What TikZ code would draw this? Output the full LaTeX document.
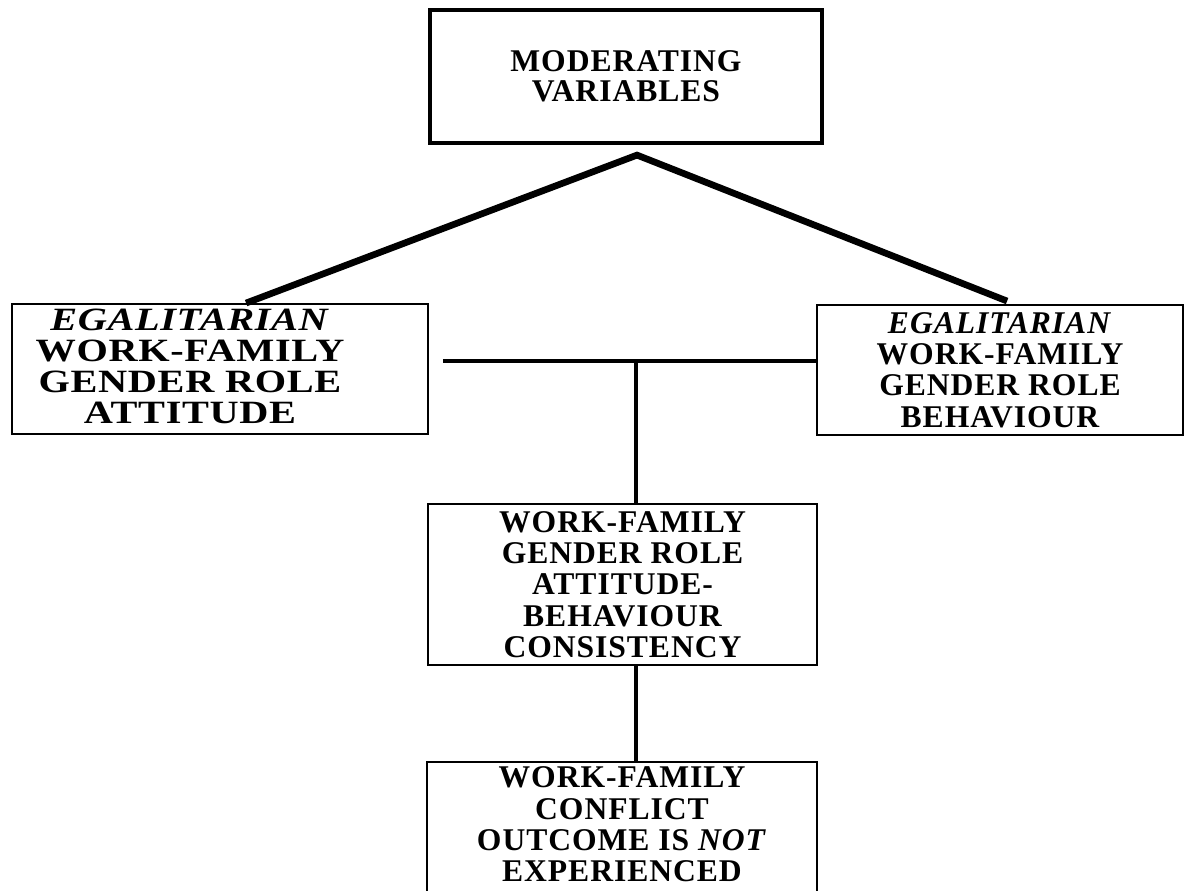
\documentclass[tikz,border=0pt]{standalone}
\usepackage{fontspec}
\setmainfont{Liberation Serif}[LetterSpace=3]
\newfontfamily\widefont[FakeStretch=1.24,LetterSpace=2]{Liberation Serif}
\usetikzlibrary{calc}
\tikzset{
  box/.style={draw, line width=1.1pt, rectangle, inner sep=0pt, align=center,
    font=\fontsize{18}{17.8}\selectfont\bfseries},
  topbox/.style={box, line width=2.4pt, font=\fontsize{18}{17}\selectfont\bfseries},
  widetext/.style={align=center, inner sep=0pt, font=\widefont\fontsize{18.5}{17.6}\selectfont\bfseries},
  link/.style={line width=2.4pt},
  heavy/.style={line width=3.8pt, line join=miter},
}
\begin{document}
\begin{tikzpicture}[x=0.02cm, y=-0.02cm]
\useasboundingbox (0,0) rectangle (1186,890);
\clip (0,0) rectangle (1186,890);
\fill[white] (0,0) rectangle (1186,890);

\node[topbox, minimum width=7.84cm, minimum height=2.66cm] (mod) at (626,76.5) {MODERATING\\VARIABLES};

\node[box, minimum width=8.32cm, minimum height=2.6cm] (att) at (220,369) {};
\node[widetext] (atttext) at (190,366) {\textit{EGALITARIAN}\\WORK-FAMILY\\GENDER ROLE\\ATTITUDE};

\node[box, minimum width=7.32cm, minimum height=2.6cm] (beh) at (1000,370) {\textit{EGALITARIAN}\\WORK-FAMILY\\GENDER ROLE\\BEHAVIOUR};

\node[box, minimum width=7.78cm, minimum height=3.22cm] (con) at (622.5,584.5) {WORK-FAMILY\\GENDER ROLE\\ATTITUDE-\\BEHAVIOUR\\CONSISTENCY};

\node[box, draw=none, minimum width=7.76cm, minimum height=2.46cm] (out) at (622,824.5) {WORK-FAMILY\\CONFLICT\\OUTCOME IS \textit{NOT}\\EXPERIENCED};
\draw[line width=1.1pt] ($(out.south west)+(0,20)$) -- (out.north west) -- (out.north east) -- ($(out.south east)+(0,20)$);

% connectors
\coordinate (apex) at ($(mod.south)+(11,10)$);
\coordinate (lend) at ($(att.north west)+(235,0)$);
\coordinate (rend) at ($(beh.north west)+(191,-3)$);
\draw[heavy] (lend) -- (apex) -- (rend);

\coordinate (hl) at ($(att.north east)+(14,58)$);
\draw[link] (hl) -- (hl -| beh.west);
\coordinate (junc) at (636,362);
\draw[link] (junc) -- (junc |- con.north);
\draw[link] (junc |- con.south) -- (junc |- out.north);
\end{tikzpicture}
\end{document}
